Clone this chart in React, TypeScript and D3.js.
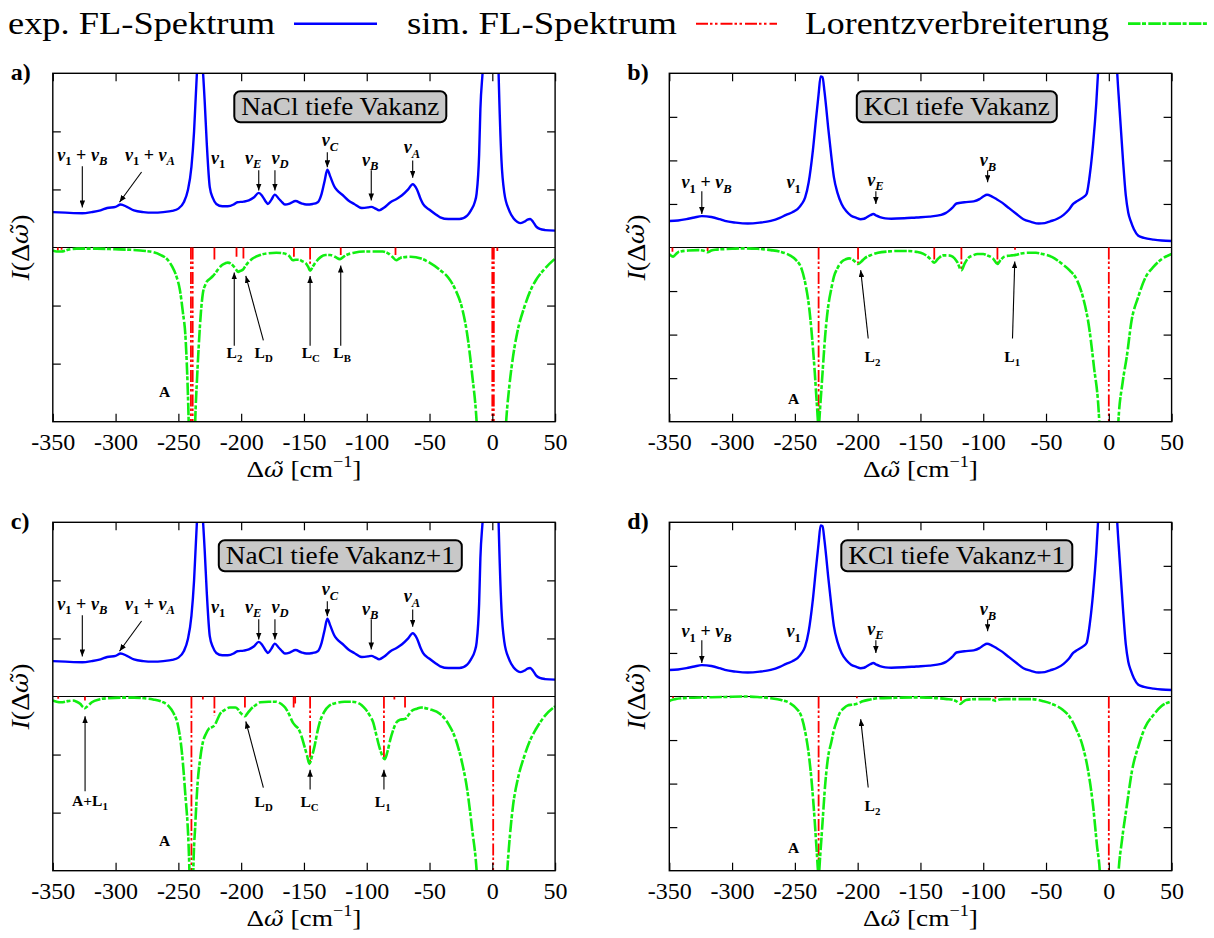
import React, { useEffect, useRef } from "react";
import * as d3 from "d3";

type Pt = [number, number];
type Stick = [number, number];
interface Note {
  text: string;
  x: number;
  y: number;
  arrow?: [number, number, number, number];
}

// ---------- data ----------
const xTicks = [-350, -300, -250, -200, -150, -100, -50, 0, 50];

const legendLabels = ["exp. FL-Spektrum", "sim. FL-Spektrum", "Lorentzverbreiterung"];
const panelLetters = ["a)", "b)", "c)", "d)"];
const boxTitles = ["NaCl tiefe Vakanz", "KCl tiefe Vakanz", "NaCl tiefe Vakanz+1", "KCl tiefe Vakanz+1"];

// measured fluorescence spectrum, NaCl
const naclExp: Pt[] = [
  [-350, 0.61], [-340, 0.6], [-326.5, 0.59], [-319, 0.61], [-312, 0.64], [-306.7, 0.68], [-300, 0.7],
  [-296, 0.74], [-291, 0.7], [-285.4, 0.64], [-278, 0.61], [-270, 0.6], [-262, 0.61], [-255, 0.63],
  [-250, 0.67], [-245.7, 0.78], [-242.5, 0.98], [-239.6, 1.39], [-237.5, 2.0], [-236, 2.67],
  [-233.5, 3.5], [-231, 3.2], [-229, 2.5], [-227.4, 1.8], [-225, 1.04], [-222.5, 0.85], [-219.8, 0.75],
  [-215, 0.71], [-210.7, 0.71], [-206, 0.74], [-203, 0.78], [-198, 0.79], [-193.9, 0.81], [-190, 0.86],
  [-186, 0.94], [-183, 0.88], [-180, 0.78], [-178.7, 0.75], [-176, 0.82], [-173.2, 0.91], [-170, 0.84],
  [-167, 0.77], [-165, 0.74], [-161, 0.76], [-156.7, 0.8], [-152, 0.76], [-148.2, 0.74], [-143, 0.75],
  [-139, 0.78], [-136, 0.92], [-133.5, 1.15], [-131.4, 1.34], [-129, 1.22], [-126, 1.06], [-123.8, 0.99],
  [-119, 0.9], [-114.6, 0.81], [-110, 0.75], [-103.9, 0.68], [-99, 0.69], [-96.3, 0.7], [-93, 0.67],
  [-90.2, 0.64], [-86, 0.69], [-81.1, 0.78], [-76, 0.84], [-71.9, 0.9], [-67, 1.0], [-63.4, 1.09],
  [-60, 1.0], [-57, 0.83], [-55.2, 0.75], [-50, 0.65], [-45, 0.57], [-41.5, 0.52], [-35, 0.49],
  [-26.2, 0.49], [-20, 0.55], [-17, 0.64], [-14, 0.78], [-12.5, 0.93], [-10.5, 1.6], [-9.5, 2.38],
  [-7.5, 3.1], [-4, 5], [0, 9], [3, 5], [5, 3.0], [7.3, 1.5], [9.5, 0.95], [13.4, 0.64], [17, 0.5],
  [20, 0.44], [22.6, 0.42], [26, 0.45], [28, 0.48], [30.2, 0.49], [32.5, 0.44], [35, 0.36],
  [37.8, 0.32], [42, 0.3], [50, 0.29],
];

// measured fluorescence spectrum, KCl
const kclExp: Pt[] = [
  [-350, 0.61], [-343, 0.62], [-336.3, 0.65], [-330, 0.69], [-324.1, 0.72], [-316.5, 0.7], [-310, 0.65],
  [-305.8, 0.61], [-297, 0.57], [-287.5, 0.55], [-278, 0.57], [-269.2, 0.61], [-262, 0.68], [-257, 0.75],
  [-252, 0.81], [-247.9, 0.88], [-244.5, 1.0], [-241.8, 1.15], [-239, 1.5], [-235.7, 2.22], [-233, 3.0],
  [-231.1, 3.52], [-229.5, 3.93], [-228, 3.91], [-226.5, 3.6], [-225, 3.2], [-223.5, 2.76], [-221, 2.1],
  [-218.9, 1.61], [-216, 1.25], [-212.8, 1.0], [-209, 0.83], [-205.2, 0.73], [-201, 0.68], [-197.6, 0.65],
  [-195, 0.66], [-193, 0.69], [-190, 0.74], [-187.5, 0.77], [-185, 0.73], [-182.3, 0.7], [-178, 0.67],
  [-173.2, 0.66], [-163, 0.67], [-153.4, 0.69], [-143, 0.71], [-133.5, 0.75], [-130, 0.79], [-127.4, 0.84],
  [-124, 0.93], [-121.3, 1.01], [-115, 1.04], [-107.6, 1.06], [-103, 1.11], [-100, 1.17], [-97, 1.21],
  [-93, 1.17], [-89.3, 1.11], [-85, 1.03], [-80.2, 0.92], [-74, 0.78], [-68, 0.65], [-62, 0.59],
  [-55.8, 0.55], [-51, 0.56], [-46.7, 0.6], [-41, 0.66], [-36, 0.75], [-32, 0.86], [-28.4, 1.0],
  [-25.5, 1.06], [-23.8, 1.09], [-20.5, 1.15], [-17.7, 1.23], [-15, 1.7], [-12.5, 2.38], [-10, 3.3],
  [-8, 4.3], [-4, 7], [0, 12], [3, 7], [6, 4.4], [8.5, 3.2], [11.3, 2.0], [13.5, 1.2], [15.5, 0.8],
  [17.4, 0.61], [20, 0.42], [23.5, 0.27], [28, 0.22], [35.7, 0.18], [42, 0.16], [50, 0.15],
];

// Lorentz-broadened simulated spectra (plotted downwards)
const naclVacLorentz: Pt[] = [
  [-350, -0.05], [-347, -0.07], [-343.3, -0.07], [-338, -0.04], [-331, -0.02], [-315, -0.02], [-300.6, -0.03],
  [-288, -0.04], [-276.2, -0.06], [-270, -0.08], [-264, -0.13], [-259, -0.2], [-254.9, -0.33], [-251.5, -0.5],
  [-248.8, -0.73], [-246.5, -1.1], [-244.2, -1.59], [-241.8, -3.0], [-239.2, -6], [-236.6, -3.0], [-235, -2.2],
  [-233.5, -1.59], [-232, -1.1], [-230.5, -0.79], [-228.5, -0.64], [-227.4, -0.59], [-225, -0.54], [-222.9, -0.5],
  [-219.8, -0.42], [-217.5, -0.35], [-215.2, -0.3], [-212.5, -0.27], [-210.7, -0.26], [-208, -0.28], [-206.1, -0.32],
  [-204, -0.38], [-202.4, -0.42], [-200.5, -0.4], [-198.5, -0.38], [-197, -0.33], [-194, -0.25], [-190.9, -0.19],
  [-185, -0.13], [-178.7, -0.1], [-172, -0.09], [-166.5, -0.1], [-162, -0.14], [-158.8, -0.22], [-156.5, -0.21],
  [-154.3, -0.21], [-151, -0.24], [-148.2, -0.28], [-146.5, -0.34], [-145.1, -0.4], [-143, -0.33], [-140.5, -0.25],
  [-137, -0.17], [-132.9, -0.13], [-129, -0.13], [-125.3, -0.16], [-121.3, -0.2], [-118.5, -0.16], [-116.2, -0.13],
  [-110, -0.09], [-102.4, -0.07], [-95, -0.07], [-87.2, -0.07], [-83, -0.1], [-79.6, -0.16], [-76.5, -0.22],
  [-74, -0.19], [-72, -0.17], [-65, -0.16], [-56.7, -0.19], [-50, -0.26], [-41.5, -0.39], [-35, -0.52],
  [-29.3, -0.73], [-24, -1.05], [-20.1, -1.48], [-16, -2.2], [-12.5, -3.0], [-1, -12], [11, -3.0], [13.5, -2.4],
  [16.5, -1.88], [20, -1.45], [25.6, -1.02], [30, -0.76], [34.8, -0.56], [42, -0.36], [50, -0.19],
];

const kclVacLorentz: Pt[] = [
  [-350, -0.15], [-349, -0.18], [-347, -0.21], [-345, -0.16], [-342.4, -0.1], [-335, -0.07], [-327.1, -0.06],
  [-322, -0.08], [-319.5, -0.11], [-316.5, -0.07], [-313.4, -0.05], [-300, -0.03], [-290.5, -0.02], [-280, -0.03],
  [-269.2, -0.06], [-261, -0.1], [-254, -0.18], [-249, -0.29], [-244.8, -0.48], [-241.5, -0.85], [-238.7, -1.36],
  [-236.5, -2.0], [-234.1, -2.89], [-232.5, -3.6], [-231.1, -4.1], [-229.7, -3.6], [-228, -2.89], [-225.8, -2.0],
  [-223.5, -1.36], [-221, -0.95], [-218.9, -0.67], [-216, -0.47], [-212.8, -0.33], [-209.5, -0.27], [-206.7, -0.25],
  [-203, -0.3], [-199.7, -0.38], [-197, -0.32], [-194.5, -0.25], [-189, -0.17], [-183.8, -0.12], [-175, -0.09],
  [-168.6, -0.08], [-160, -0.08], [-153.4, -0.1], [-148, -0.14], [-144.2, -0.21], [-141.5, -0.28], [-139, -0.35],
  [-136, -0.26], [-132, -0.18], [-128, -0.18], [-124.4, -0.21], [-121, -0.32], [-117.4, -0.52], [-115, -0.38],
  [-112.2, -0.25], [-108, -0.18], [-104.6, -0.15], [-100, -0.15], [-97, -0.18], [-92, -0.26], [-88.7, -0.38],
  [-86, -0.28], [-83.2, -0.21], [-80, -0.19], [-77.1, -0.18], [-74.1, -0.17], [-70, -0.14], [-64.9, -0.12],
  [-58, -0.12], [-52.7, -0.15], [-45, -0.22], [-37.5, -0.37], [-31, -0.53], [-25.3, -0.75], [-20.5, -1.15],
  [-16.2, -1.74], [-12, -2.7], [-7.6, -4.0], [0, -12], [7.6, -4.0], [11, -3.1], [14.3, -2.51], [18, -1.7],
  [23.5, -1.13], [29, -0.7], [35.7, -0.44], [42, -0.27], [50, -0.15],
];

const naclVac1Lorentz: Pt[] = [
  [-350, -0.07], [-347, -0.09], [-343.3, -0.1], [-338, -0.08], [-334.1, -0.07], [-331, -0.09], [-328, -0.13],
  [-326, -0.18], [-324.4, -0.2], [-322, -0.16], [-318.9, -0.1], [-313, -0.05], [-306.7, -0.03], [-295, -0.02],
  [-285.4, -0.02], [-277, -0.03], [-270.1, -0.05], [-263, -0.09], [-257.9, -0.16], [-254, -0.28], [-250.3, -0.5],
  [-247.5, -0.9], [-244.8, -1.59], [-241.2, -3.0], [-239.6, -6], [-238.1, -3.0], [-236.5, -2.2], [-235, -1.59],
  [-232.5, -1.05], [-230.5, -0.79], [-228, -0.64], [-225.9, -0.56], [-223.5, -0.53], [-221.3, -0.5], [-219, -0.4],
  [-216.8, -0.3], [-213, -0.23], [-209.1, -0.19], [-204.6, -0.19], [-202.5, -0.22], [-200.6, -0.28],
  [-198.5, -0.32], [-197, -0.34], [-195, -0.29], [-192.4, -0.22], [-188.5, -0.15], [-184.8, -0.1], [-178, -0.09],
  [-172.6, -0.09], [-168, -0.13], [-165, -0.19], [-162, -0.3], [-158.8, -0.45], [-156.5, -0.51], [-154.3, -0.56],
  [-152, -0.68], [-149.7, -0.85], [-147.5, -1.02], [-145.7, -1.16], [-143.5, -1.02], [-141.5, -0.85],
  [-139.5, -0.63], [-137.5, -0.45], [-134, -0.27], [-129.9, -0.16], [-124, -0.11], [-117.7, -0.09], [-113, -0.09],
  [-108.5, -0.1], [-104, -0.15], [-100.9, -0.22], [-97.5, -0.33], [-94.8, -0.45], [-92.5, -0.65], [-90.2, -0.85],
  [-88, -1.0], [-85.7, -1.08], [-83.5, -0.95], [-81.1, -0.73], [-78.5, -0.55], [-76.5, -0.45], [-73.5, -0.4],
  [-70.5, -0.39], [-68.9, -0.38], [-66.5, -0.31], [-64.3, -0.25], [-60, -0.21], [-56.7, -0.19], [-50, -0.22],
  [-41.5, -0.3], [-35, -0.47], [-29.3, -0.73], [-24.5, -1.1], [-20.1, -1.59], [-16, -2.3], [-12.5, -3.0],
  [-0.5, -12], [11.9, -3.0], [14, -2.4], [16.5, -1.88], [20, -1.45], [25.6, -1.02], [30, -0.76], [34.8, -0.56],
  [42, -0.33], [50, -0.17],
];

const kclVac1Lorentz: Pt[] = [
  [-350, -0.11], [-349, -0.09], [-347, -0.07], [-345.4, -0.06], [-335, -0.03], [-321, -0.02], [-305, -0.01],
  [-290.5, 0], [-280, -0.01], [-269.2, -0.04], [-261, -0.08], [-254, -0.15], [-249, -0.27], [-244.8, -0.46],
  [-241.5, -0.85], [-238.7, -1.38], [-236.5, -2.0], [-234.1, -2.9], [-232.5, -3.6], [-231.1, -4.1],
  [-229.7, -3.6], [-228, -2.9], [-225.8, -2.0], [-223.5, -1.38], [-221, -1.05], [-218.9, -0.77], [-216.5, -0.55],
  [-214.3, -0.38], [-211, -0.27], [-208.2, -0.21], [-205, -0.19], [-202.1, -0.18], [-199, -0.15], [-196, -0.11],
  [-190, -0.07], [-183.8, -0.04], [-170, -0.03], [-153.4, -0.02], [-140, -0.03], [-129, -0.06], [-124, -0.08],
  [-121.3, -0.11], [-118.3, -0.17], [-116, -0.12], [-113.7, -0.08], [-105, -0.06], [-95.4, -0.06], [-92, -0.08],
  [-90, -0.1], [-87, -0.07], [-83.2, -0.06], [-72, -0.06], [-61.9, -0.06], [-52, -0.11], [-43.6, -0.19],
  [-37, -0.3], [-31.4, -0.46], [-26, -0.75], [-20.7, -1.15], [-16.5, -1.7], [-12.5, -2.52], [-9.5, -3.4],
  [-7, -4.1], [0, -12], [7.6, -4.1], [10.5, -3.3], [14.3, -2.52], [18.5, -1.7], [23.5, -1.15], [29, -0.7],
  [35.7, -0.42], [42, -0.22], [50, -0.11],
];

// simulated line spectra: [position, intensity]
const naclVacSticks: Stick[] = [
  [-346, -0.05], [-343, -0.04], [-240, -12], [-238.6, -12], [-221.3, -0.22], [-203.7, -0.16], [-198.2, -0.19],
  [-158, -0.16], [-145.1, -0.28], [-120.7, -0.13], [-77.1, -0.13], [0, -12], [1.2, -12], [4, -0.06],
];
const kclVacSticks: Stick[] = [
  [-347.5, -0.1], [-319.5, -0.08], [-231.1, -12], [-199.7, -0.37], [-139, -0.33], [-117.4, -0.52],
  [-88.7, -0.37], [-74.7, -0.05], [0, -12],
];
const naclVac1Sticks: Stick[] = [
  [-345.7, -0.04], [-324.4, -0.07], [-239.6, -12], [-230.5, -0.05], [-221.3, -0.33], [-197, -0.19],
  [-158.2, -0.19], [-157, -0.12], [-145.1, -1.12], [-86.3, -1.05], [-78, -0.05], [-69.5, -0.19], [0.7, -12],
];
const kclVac1Sticks: Stick[] = [
  [-347, -0.04], [-231.1, -12], [-200.6, -0.04], [-117.7, -0.1], [-90.3, -0.05], [0, -12],
];

// peak assignments
const naclUpperNotes: Note[] = [
  { text: "ν_1 + ν_B", x: -326.5, y: 1.49, arrow: [-326.5, 1.4, -326.5, 0.69] },
  { text: "ν_1 + ν_A", x: -272.6, y: 1.49, arrow: [-279.3, 1.3, -296.9, 0.78] },
  { text: "ν_1", x: -218.4, y: 1.44 },
  { text: "ν_E", x: -190.5, y: 1.44, arrow: [-186, 1.33, -186, 0.98] },
  { text: "ν_D", x: -169, y: 1.44, arrow: [-173.1, 1.33, -173.1, 0.98] },
  { text: "ν_C", x: -129.2, y: 1.74, arrow: [-131.4, 1.64, -131.4, 1.38] },
  { text: "ν_B", x: -97.3, y: 1.41, arrow: [-96.4, 1.33, -96.4, 0.81] },
  { text: "ν_A", x: -63.9, y: 1.62, arrow: [-63.4, 1.5, -63.4, 1.2] },
];
const kclUpperNotes: Note[] = [
  { text: "ν_1 + ν_B", x: -320.3, y: 1.36, arrow: [-324.1, 1.29, -324.1, 0.77] },
  { text: "ν_1", x: -251, y: 1.36 },
  { text: "ν_E", x: -185.9, y: 1.42, arrow: [-185.5, 1.29, -185.5, 1.0] },
  { text: "ν_B", x: -96.3, y: 1.86, arrow: [-96.5, 1.77, -96.5, 1.5] },
];
const naclVacLowerNotes: Note[] = [
  { text: "L_2", x: -205.3, y: -1.9, arrow: [-205.5, -1.69, -205.5, -0.43] },
  { text: "L_D", x: -182.1, y: -1.9, arrow: [-182.3, -1.6, -196.3, -0.49] },
  { text: "L_C", x: -144.5, y: -1.9, arrow: [-145.1, -1.69, -145.1, -0.49] },
  { text: "L_B", x: -119.6, y: -1.9, arrow: [-120.7, -1.69, -120.7, -0.31] },
  { text: "A", x: -260.9, y: -2.58 },
];
const kclVacLowerNotes: Note[] = [
  { text: "L_2", x: -188.2, y: -2.63, arrow: [-191.6, -2.09, -197.6, -0.52] },
  { text: "L_1", x: -76.9, y: -2.63, arrow: [-76.7, -2.09, -74.9, -0.32] },
  { text: "A", x: -251, y: -3.6 },
];
const naclVac1LowerNotes: Note[] = [
  { text: "A+L_1", x: -320.4, y: -1.89, arrow: [-324.3, -1.63, -324.3, -0.34] },
  { text: "L_D", x: -182.1, y: -1.9, arrow: [-182.3, -1.57, -196.3, -0.43] },
  { text: "L_C", x: -145.5, y: -1.9, arrow: [-145.1, -1.6, -145.1, -1.26] },
  { text: "L_1", x: -87.3, y: -1.9, arrow: [-86.3, -1.6, -86.3, -1.26] },
  { text: "A", x: -260.9, y: -2.57 },
];
const kclVac1LowerNotes: Note[] = [
  { text: "L_2", x: -188.2, y: -2.63, arrow: [-191.6, -2.09, -197.6, -0.52] },
  { text: "A", x: -251, y: -3.6 },
];

// ---------- styling ----------
const SERIF = "'Liberation Serif', 'Times New Roman', serif";
const MARK_SERIF = "'DejaVu Serif', serif";
const BLUE = "#0000ff";
const RED = "#ff0000";
const GREEN = "#11ee11";
const RED_DASH = "12,2,2.5,2.5,2.5,3";
const GREEN_DASH = "12.5,1.5,4,2.3";

const PW = 502.3;
const PH = 348.4;

// rendered widths of the Computer-Modern style labels
const legendWidths = [267, 270, 304];
const boxWidths = [198, 186, 229, 217];
const X_TITLE_WIDTH = 115;
const Y_TITLE_WIDTH = 66;

const panels = [
  { left: 52.8, top: 73.3, yMax: 3, exp: naclExp, lor: naclVacLorentz, sticks: naclVacSticks, upper: naclUpperNotes, lower: naclVacLowerNotes },
  { left: 669.3, top: 73.3, yMax: 4, exp: kclExp, lor: kclVacLorentz, sticks: kclVacSticks, upper: kclUpperNotes, lower: kclVacLowerNotes },
  { left: 52.8, top: 522.3, yMax: 3, exp: naclExp, lor: naclVac1Lorentz, sticks: naclVac1Sticks, upper: naclUpperNotes, lower: naclVac1LowerNotes },
  { left: 669.3, top: 522.3, yMax: 4, exp: kclExp, lor: kclVac1Lorentz, sticks: kclVac1Sticks, upper: kclUpperNotes, lower: kclVac1LowerNotes },
];

type TextSel = d3.Selection<SVGTextElement, unknown, null, undefined>;

function fitTo(sel: TextSel, width: number) {
  sel.attr("textLength", width).attr("lengthAdjust", "spacingAndGlyphs");
}

// italic omega with combining tilde, set in a font with mark positioning
function omegaTilde(t: TextSel, size: number) {
  t.append("tspan")
    .attr("font-family", MARK_SERIF)
    .attr("font-style", "italic")
    .attr("font-size", size * 0.88)
    .text("ω\u0303");
}

// labels like "ν_1 + ν_B" or "A+L_1": "_x" marks a subscript
function noteText(
  g: d3.Selection<SVGGElement, unknown, null, undefined>,
  px: number,
  py: number,
  s: string,
  greek: boolean
) {
  const size = greek ? 18 : 15.5;
  const sub = greek ? 4.5 : 4;
  const t = g
    .append("text")
    .attr("x", px)
    .attr("y", py)
    .attr("text-anchor", "middle")
    .attr("font-family", SERIF)
    .attr("font-weight", "bold")
    .attr("font-size", size)
    .attr("fill", "#000");
  const re = /_(.)|([^_]+)/g;
  let m: RegExpExecArray | null;
  let shifted = false;
  while ((m = re.exec(s))) {
    if (m[1]) {
      const ts = t.append("tspan").attr("dy", sub).attr("font-size", size * 0.7).text(m[1]);
      if (greek && /[A-Z]/.test(m[1])) ts.attr("font-style", "italic");
      shifted = true;
    } else {
      const runs = m[2].match(/[νA-Za-z]+|[^νA-Za-z]+/g) || [];
      runs.forEach((r) => {
        const ts = t.append("tspan").text(r.replace(/ /g, "\u00a0"));
        if (shifted) {
          ts.attr("dy", -sub);
          shifted = false;
        }
        if (greek && /[νA-Za-z]/.test(r)) ts.attr("font-style", "italic");
      });
    }
  }
}

function drawChart(svgEl: SVGSVGElement) {
  const svg = d3.select(svgEl);
  svg.selectAll("*").remove();

  const defs = svg.append("defs");
  defs
    .append("marker")
    .attr("id", "arrowHead")
    .attr("viewBox", "0 0 10 8")
    .attr("refX", 10)
    .attr("refY", 4)
    .attr("markerWidth", 7)
    .attr("markerHeight", 5.6)
    .attr("markerUnits", "userSpaceOnUse")
    .attr("orient", "auto")
    .append("path")
    .attr("d", "M0,0 L10,4 L0,8 Z")
    .attr("fill", "#000");

  svg.append("rect").attr("width", 1214).attr("height", 938).attr("fill", "#fff");

  // ---------- legend ----------
  const legendItems = [
    { color: BLUE, dash: null as string | null, width: 2.4, x0: 294, x1: 377 },
    { color: RED, dash: RED_DASH, width: 2, x0: 696, x1: 777 },
    { color: GREEN, dash: GREEN_DASH, width: 2.8, x0: 1128, x1: 1209 },
  ];
  const lg = svg.append("g");
  legendItems.forEach((it, k) => {
    const t = lg
      .append("text")
      .attr("x", it.x0 - 19)
      .attr("y", 34)
      .attr("text-anchor", "end")
      .attr("font-family", SERIF)
      .attr("font-size", 32)
      .text(legendLabels[k]);
    fitTo(t as any, legendWidths[k]);
    const l = lg
      .append("line")
      .attr("x1", it.x0)
      .attr("x2", it.x1)
      .attr("y1", 23.7)
      .attr("y2", 23.7)
      .attr("stroke", it.color)
      .attr("stroke-width", it.width);
    if (it.dash) l.attr("stroke-dasharray", it.dash);
  });

  // ---------- panels ----------
  panels.forEach((p, i) => {
    const x = d3.scaleLinear().domain([-350, 50]).range([0, PW]);
    const y = d3.scaleLinear().domain([-p.yMax, p.yMax]).range([PH, 0]);
    const pg = svg.append("g").attr("transform", `translate(${p.left},${p.top})`);

    const clipId = `plotClip${i}`;
    defs.append("clipPath").attr("id", clipId).append("rect").attr("width", PW).attr("height", PH);
    const plot = pg.append("g").attr("clip-path", `url(#${clipId})`);

    // zero line separating measured and simulated spectra
    plot
      .append("line")
      .attr("x1", 0)
      .attr("x2", PW)
      .attr("y1", y(0))
      .attr("y2", y(0))
      .attr("stroke", "#000")
      .attr("stroke-width", 1.2);

    const line = d3
      .line<Pt>()
      .x((d) => x(d[0]))
      .y((d) => y(d[1]))
      .curve(d3.curveMonotoneX);

    plot
      .append("path")
      .attr("d", line(p.exp))
      .attr("fill", "none")
      .attr("stroke", BLUE)
      .attr("stroke-width", 2.4)
      .attr("stroke-linejoin", "round");

    plot
      .selectAll("line.stick")
      .data(p.sticks)
      .join("line")
      .attr("class", "stick")
      .attr("x1", (d) => x(d[0]))
      .attr("x2", (d) => x(d[0]))
      .attr("y1", y(0))
      .attr("y2", (d) => y(d[1]))
      .attr("stroke", RED)
      .attr("stroke-width", 1.8)
      .attr("stroke-dasharray", RED_DASH);

    plot
      .append("path")
      .attr("d", line(p.lor))
      .attr("fill", "none")
      .attr("stroke", GREEN)
      .attr("stroke-width", 2.6)
      .attr("stroke-dasharray", GREEN_DASH);

    // axes with inward ticks
    const yTicks = d3.range(-p.yMax + 1, p.yMax).filter((v) => v !== 0);
    const styleAxis = (g: d3.Selection<SVGGElement, unknown, null, undefined>) => {
      g.select(".domain").remove();
      g.selectAll(".tick line").attr("stroke", "#000").attr("stroke-width", 1.2);
    };
    const gb = pg
      .append("g")
      .attr("transform", `translate(0,${PH})`)
      .call(
        d3
          .axisBottom(x)
          .tickValues(xTicks)
          .tickSize(-8)
          .tickPadding(10.8)
          .tickFormat((d) => String(d))
      );
    styleAxis(gb as any);
    gb.selectAll("text")
      .attr("font-family", SERIF)
      .attr("font-size", 24)
      .attr("fill", "#000");

    const gt = pg.append("g").call(d3.axisTop(x).tickValues(xTicks).tickSize(-8).tickFormat(() => ""));
    styleAxis(gt as any);
    const gl = pg.append("g").call(d3.axisLeft(y).tickValues(yTicks).tickSize(-8).tickFormat(() => ""));
    styleAxis(gl as any);
    const gr = pg
      .append("g")
      .attr("transform", `translate(${PW},0)`)
      .call(d3.axisRight(y).tickValues(yTicks).tickSize(-8).tickFormat(() => ""));
    styleAxis(gr as any);

    pg.append("rect")
      .attr("width", PW)
      .attr("height", PH)
      .attr("fill", "none")
      .attr("stroke", "#000")
      .attr("stroke-width", 1.4);

    // axis titles
    const xt = pg
      .append("text")
      .attr("x", PW / 2)
      .attr("y", PH + 55)
      .attr("text-anchor", "middle")
      .attr("font-family", SERIF)
      .attr("font-size", 24);
    xt.append("tspan").text("Δ");
    omegaTilde(xt as any, 24);
    xt.append("tspan").text("\u00a0[cm");
    xt.append("tspan").attr("dy", -10).attr("font-size", 16).text("−1");
    xt.append("tspan").attr("dy", 10).text("]");
    fitTo(xt as any, X_TITLE_WIDTH);

    const yl = pg
      .append("text")
      .attr("transform", `translate(${-33},${PH / 2}) rotate(-90)`)
      .attr("text-anchor", "middle")
      .attr("dominant-baseline", "central")
      .attr("font-family", SERIF)
      .attr("font-size", 25);
    yl.append("tspan").attr("font-style", "italic").text("I");
    yl.append("tspan").text("(Δ");
    omegaTilde(yl as any, 25);
    yl.append("tspan").text(")");
    fitTo(yl as any, Y_TITLE_WIDTH);

    // panel letter
    pg.append("text")
      .attr("x", -42)
      .attr("y", 7)
      .attr("font-family", SERIF)
      .attr("font-weight", "bold")
      .attr("font-size", 24)
      .text(panelLetters[i]);

    // title box
    const bx = 287.5;
    const by = 33.5;
    const tw = boxWidths[i];
    pg.append("rect")
      .attr("x", bx - tw / 2 - 7)
      .attr("y", by - 15.5)
      .attr("width", tw + 14)
      .attr("height", 31)
      .attr("rx", 6)
      .attr("fill", "#c8c8c8")
      .attr("stroke", "#000")
      .attr("stroke-width", 2);
    const bt = pg
      .append("text")
      .attr("x", bx)
      .attr("y", by + 8.6)
      .attr("text-anchor", "middle")
      .attr("font-family", SERIF)
      .attr("font-size", 24.6)
      .text(boxTitles[i]);
    fitTo(bt as any, tw);

    // annotations
    const ng = pg.append("g");
    const drawNotes = (notes: Note[], greek: boolean) => {
      notes.forEach((n) => {
        noteText(ng as any, x(n.x), y(n.y), n.text, greek);
        if (n.arrow) {
          const [ax1, ay1, ax2, ay2] = n.arrow;
          ng.append("line")
            .attr("x1", x(ax1))
            .attr("y1", y(ay1))
            .attr("x2", x(ax2))
            .attr("y2", y(ay2))
            .attr("stroke", "#000")
            .attr("stroke-width", 1.1)
            .attr("marker-end", "url(#arrowHead)");
        }
      });
    };
    drawNotes(p.upper, true);
    drawNotes(p.lower, false);
  });
}

export default function App() {
  const ref = useRef<SVGSVGElement>(null);
  useEffect(() => {
    if (ref.current) drawChart(ref.current);
  }, []);
  return (
    <svg
      ref={ref}
      width={1214}
      height={938}
      style={{ position: "absolute", left: 0, top: 0, display: "block" }}
    />
  );
}
